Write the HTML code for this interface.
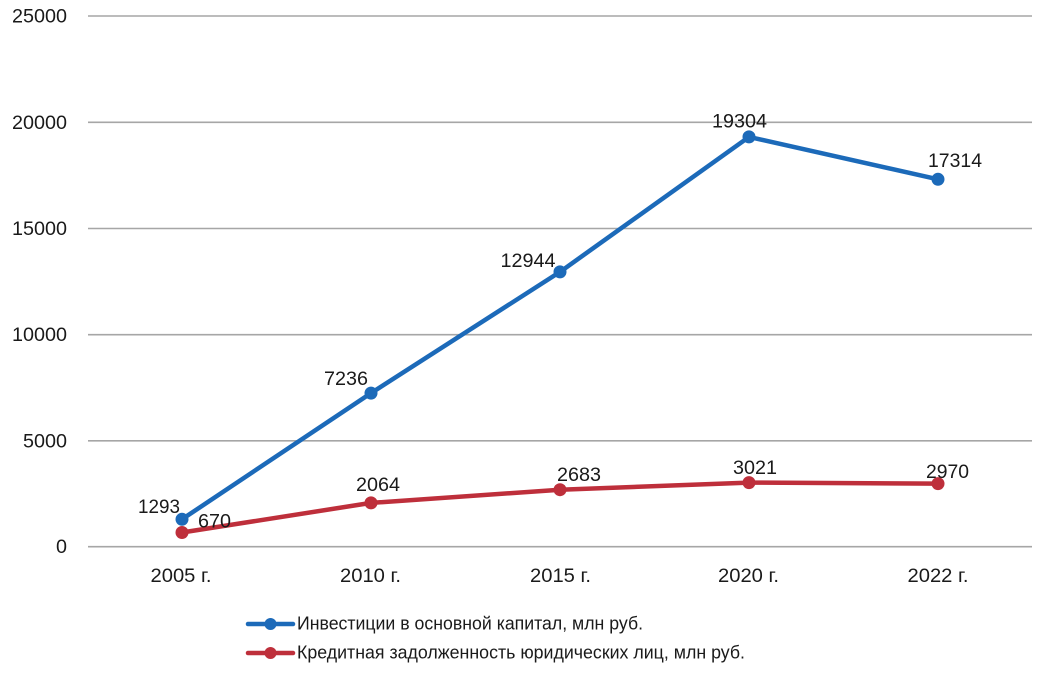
<!DOCTYPE html>
<html>
<head>
<meta charset="utf-8">
<style>
html,body{margin:0;padding:0;background:#fff;}
svg{display:block;}
text{font-family:"Liberation Sans","DejaVu Sans",sans-serif;fill:#1a1a1a;}
</style>
</head>
<body>
<svg width="1040" height="674" viewBox="0 0 1040 674" xmlns="http://www.w3.org/2000/svg">
  <!-- gridlines -->
  <g stroke="#a6a6a6" stroke-width="1.6">
    <line x1="88" y1="16" x2="1032" y2="16"/>
    <line x1="88" y1="122.3" x2="1032" y2="122.3"/>
    <line x1="88" y1="228.5" x2="1032" y2="228.5"/>
    <line x1="88" y1="334.7" x2="1032" y2="334.7"/>
    <line x1="88" y1="440.8" x2="1032" y2="440.8"/>
    <line x1="88" y1="546.7" x2="1032" y2="546.7"/>
  </g>
  <!-- y labels -->
  <g font-size="19.5" text-anchor="end">
    <text x="67" y="22.5" textLength="55" lengthAdjust="spacingAndGlyphs">25000</text>
    <text x="67" y="128.8" textLength="55" lengthAdjust="spacingAndGlyphs">20000</text>
    <text x="67" y="235" textLength="55" lengthAdjust="spacingAndGlyphs">15000</text>
    <text x="67" y="341.2" textLength="55" lengthAdjust="spacingAndGlyphs">10000</text>
    <text x="67" y="447.3" textLength="44" lengthAdjust="spacingAndGlyphs">5000</text>
    <text x="67" y="553.2" textLength="11" lengthAdjust="spacingAndGlyphs">0</text>
  </g>
  <!-- x labels -->
  <g font-size="19.5">
    <text x="150.5" y="582" textLength="61" lengthAdjust="spacingAndGlyphs">2005 г.</text>
    <text x="340" y="582" textLength="61" lengthAdjust="spacingAndGlyphs">2010 г.</text>
    <text x="530" y="582" textLength="61" lengthAdjust="spacingAndGlyphs">2015 г.</text>
    <text x="718" y="582" textLength="61" lengthAdjust="spacingAndGlyphs">2020 г.</text>
    <text x="907.5" y="582" textLength="61" lengthAdjust="spacingAndGlyphs">2022 г.</text>
  </g>
  <!-- blue series -->
  <polyline fill="none" stroke="#1c6ab9" stroke-width="4.5" stroke-linejoin="round" stroke-linecap="round"
    points="182,519.3 371,393.1 560,271.9 749,136.9 938,179.3"/>
  <g fill="#1c6ab9">
    <circle cx="182" cy="519.3" r="6.5"/>
    <circle cx="371" cy="393.1" r="6.5"/>
    <circle cx="560" cy="271.9" r="6.5"/>
    <circle cx="749" cy="136.9" r="6.5"/>
    <circle cx="938" cy="179.3" r="6.5"/>
  </g>
  <!-- red series -->
  <polyline fill="none" stroke="#be2f3b" stroke-width="4.5" stroke-linejoin="round" stroke-linecap="round"
    points="182,532.5 371,502.9 560,489.7 749,482.6 938,483.6"/>
  <g fill="#be2f3b">
    <circle cx="182" cy="532.5" r="6.5"/>
    <circle cx="371" cy="502.9" r="6.5"/>
    <circle cx="560" cy="489.7" r="6.5"/>
    <circle cx="749" cy="482.6" r="6.5"/>
    <circle cx="938" cy="483.6" r="6.5"/>
  </g>
  <!-- data labels -->
  <g font-size="19.5">
    <text x="138" y="513" textLength="42" lengthAdjust="spacingAndGlyphs">1293</text>
    <text x="198" y="527.5" textLength="33" lengthAdjust="spacingAndGlyphs">670</text>
    <text x="324" y="385" textLength="44" lengthAdjust="spacingAndGlyphs">7236</text>
    <text x="500.5" y="267" textLength="55" lengthAdjust="spacingAndGlyphs">12944</text>
    <text x="712" y="127.5" textLength="55" lengthAdjust="spacingAndGlyphs">19304</text>
    <text x="928" y="167" textLength="54" lengthAdjust="spacingAndGlyphs">17314</text>
    <text x="356" y="491" textLength="44" lengthAdjust="spacingAndGlyphs">2064</text>
    <text x="557" y="481" textLength="44" lengthAdjust="spacingAndGlyphs">2683</text>
    <text x="733" y="474" textLength="44" lengthAdjust="spacingAndGlyphs">3021</text>
    <text x="926" y="478" textLength="43" lengthAdjust="spacingAndGlyphs">2970</text>
  </g>
  <!-- legend -->
  <line x1="248" y1="624" x2="293" y2="624" stroke="#1c6ab9" stroke-width="4.5" stroke-linecap="round"/>
  <circle cx="270.5" cy="624" r="6" fill="#1c6ab9"/>
  <line x1="248" y1="653" x2="293" y2="653" stroke="#be2f3b" stroke-width="4.5" stroke-linecap="round"/>
  <circle cx="270.5" cy="653" r="6" fill="#be2f3b"/>
  <g font-size="18">
    <text x="297" y="629.5" textLength="346" lengthAdjust="spacingAndGlyphs">Инвестиции в основной капитал, млн руб.</text>
    <text x="297" y="658.5" textLength="448" lengthAdjust="spacingAndGlyphs">Кредитная задолженность юридических лиц, млн руб.</text>
  </g>
</svg>
</body>
</html>
